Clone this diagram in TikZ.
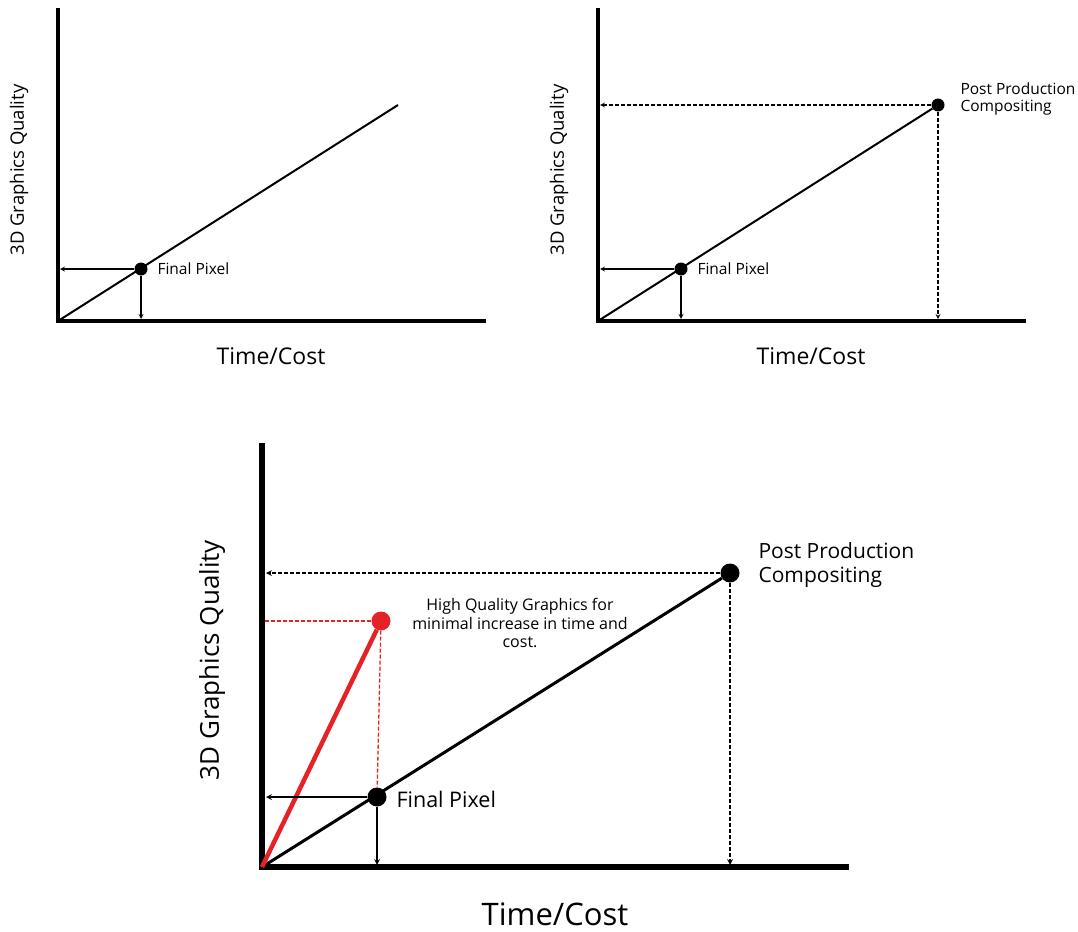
\documentclass[tikz,border=0pt]{standalone}
\usepackage{fontspec}
\setmainfont{Open Sans}
\usetikzlibrary{arrows}

\newcommand{\fs}[1]{\fontsize{#1}{1.15\dimexpr#1pt\relax}\selectfont}

\begin{document}
\begin{tikzpicture}[
  x=1pt,y=-1pt,
  >=stealth,
  ,
  axis/.style={line width=4pt,line cap=rect},
  bigaxis/.style={line width=6pt,line cap=rect},
  dot/.style={circle,fill=black,inner sep=0pt,minimum size=13pt},
  bigdot/.style={circle,fill=black,inner sep=0pt,minimum size=19pt},
  reddot/.style={bigdot,fill=hqred},
  guide/.style={->,line width=1.2pt},
  dguide/.style={->,line width=1.2pt,dash pattern=on 4pt off 2pt},
  lbl/.style={anchor=west,font=\fs{15.5}}
]
  \definecolor{hqred}{HTML}{E52225}
  \useasboundingbox (0,0) rectangle (1078,931);

  % left panel
  \coordinate (o1) at (58,321);
  \draw[axis] (58,10) -- (o1) -- (484,321);
  \draw[line width=2pt] (o1) -- (398,105);
  \node[dot](fp1) at (141,269){};
  \coordinate (fp1y) at (60,269);
  \coordinate (fp1x) at (141,319);
  \draw[guide] (fp1) -- (fp1y);
  \draw[guide] (fp1) -- (fp1x);
  \node[lbl] at (154,269){Final Pixel};
  \node[rotate=90,font=\fs{18.5}] at (19,170){3D Graphics Quality};
  \node[font=\fs{23}] at (271,356){Time/Cost};

  % right panel
  \coordinate (o2) at (598,321);
  \draw[axis] (598,10) -- (o2) -- (1024,321);
  \node[dot](pp2) at (938,105){};
  \draw[line width=2pt] (o2) -- (pp2);
  \node[dot](fp2) at (681,269){};
  \coordinate (fp2y) at (600,269);
  \coordinate (fp2x) at (681,319);
  \coordinate (pp2y) at (600,105);
  \coordinate (pp2x) at (938,319);
  \draw[guide] (fp2) -- (fp2y);
  \draw[guide] (fp2) -- (fp2x);
  \draw[dguide] (pp2) -- (pp2y);
  \draw[dguide] (pp2) -- (pp2x);
  \node[lbl] at (694,269){Final Pixel};
  \node[lbl,align=left] at (957,99){Post Production\\Compositing};
  \node[rotate=90,font=\fs{18.5}] at (559,170){3D Graphics Quality};
  \node[font=\fs{23}] at (811,356){Time/Cost};

  % bottom panel
  \coordinate (o3) at (262,867);
  \draw[bigaxis] (262,446) -- (o3) -- (846,867);
  \node[bigdot](pp3) at (730,573){};
  \draw[line width=3pt] (o3) -- (pp3);
  \node[bigdot](fp3) at (377,797){};
  \node[reddot](hq3) at (381,621){};
  \draw[line width=4.5pt,hqred] (o3) -- (hq3);
  \coordinate (fp3y) at (266,797);
  \coordinate (fp3x) at (377,865);
  \coordinate (pp3y) at (266,573);
  \coordinate (pp3x) at (730,865);
  \coordinate (hq3y) at (265,621);
  \draw[guide,line width=1.6pt] (fp3) -- (fp3y);
  \draw[guide,line width=1.6pt] (fp3) -- (fp3x);
  \draw[dguide,line width=1.6pt] (pp3) -- (pp3y);
  \draw[dguide,line width=1.6pt] (pp3) -- (pp3x);
  \draw[line width=1.3pt,dash pattern=on 4pt off 2pt,hqred] (hq3) -- (hq3y);
  \draw[line width=1.3pt,dash pattern=on 4pt off 2pt,hqred] (hq3) -- (fp3);
  \node[lbl,font=\fs{21.5}] at (393,799){Final Pixel};
  \node[lbl,font=\fs{21},align=left] at (755,565){Post Production\\Compositing};
  \node[font=\fs{16},align=center] at (520,623){High Quality Graphics for\\minimal increase in time and\\cost.};
  \node[rotate=90,font=\fs{26}] at (212,660){3D Graphics Quality};
  \node[font=\fs{31},anchor=base,inner sep=0pt] at (555,925){Time/Cost};
\end{tikzpicture}
\end{document}
